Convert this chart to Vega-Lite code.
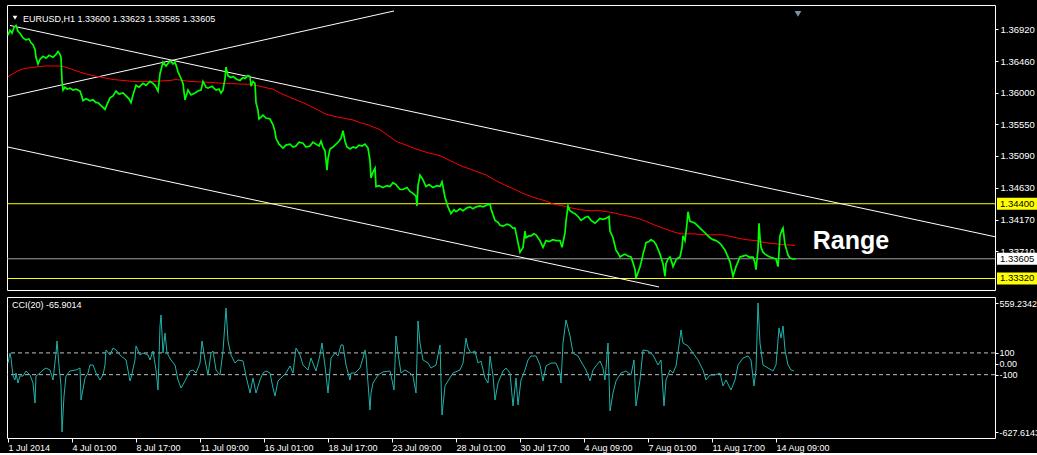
{
"$schema": "https://vega.github.io/schema/vega-lite/v6.json",
"background": "#000000",
"padding": {"left": 4, "top": 4, "right": 0, "bottom": 0},
"spacing": 5,
"config": {
  "view": {"stroke": "#ffffff", "strokeWidth": 1},
  "font": "Liberation Sans",
  "axis": {"labelColor": "#ffffff", "tickColor": "#ffffff", "domain": false, "grid": false, "labelFont": "Liberation Sans", "labelFontSize": 9.5}
},
"datasets": {
  "price": [
    {"b":0,"p":1.36836},{"b":2,"p":1.36906},{"b":4,"p":1.36864},{"b":6,"p":1.36948},{"b":8,"p":1.36976},{"b":10,"p":1.36892},{"b":12,"p":1.36864},{"b":15,"p":1.36795},{"b":18,"p":1.36767},{"b":21,"p":1.36781},{"b":23,"p":1.36725},{"b":25,"p":1.36697},{"b":27,"p":1.36627},{"b":28,"p":1.36516},{"b":30,"p":1.36418},{"b":32,"p":1.36488},{"b":35,"p":1.3653},{"b":38,"p":1.36502},{"b":41,"p":1.36544},{"b":45,"p":1.36516},{"b":48,"p":1.36558},{"b":50,"p":1.36599},{"b":52,"p":1.36558},{"b":53,"p":1.36516},{"b":54,"p":1.36181},{"b":55,"p":1.36042},{"b":57,"p":1.36084},{"b":59,"p":1.36056},{"b":62,"p":1.3607},{"b":65,"p":1.36042},{"b":68,"p":1.36056},{"b":72,"p":1.36028},{"b":74,"p":1.35944},{"b":75,"p":1.35888},{"b":78,"p":1.35916},{"b":82,"p":1.35888},{"b":85,"p":1.35902},{"b":88,"p":1.35861},{"b":90,"p":1.35861},{"b":93,"p":1.35819},{"b":95,"p":1.35791},{"b":97,"p":1.35763},{"b":99,"p":1.35833},{"b":102,"p":1.3593},{"b":105,"p":1.35958},{"b":108,"p":1.36028},{"b":111,"p":1.35986},{"b":115,"p":1.36},{"b":118,"p":1.35958},{"b":121,"p":1.35916},{"b":123,"p":1.35861},{"b":125,"p":1.35972},{"b":128,"p":1.36111},{"b":131,"p":1.36084},{"b":135,"p":1.36139},{"b":138,"p":1.36111},{"b":142,"p":1.36167},{"b":145,"p":1.36139},{"b":147,"p":1.36111},{"b":150,"p":1.36028},{"b":152,"p":1.36279},{"b":154,"p":1.3639},{"b":155,"p":1.36446},{"b":158,"p":1.3639},{"b":161,"p":1.36446},{"b":163,"p":1.3646},{"b":165,"p":1.36418},{"b":167,"p":1.36446},{"b":169,"p":1.36362},{"b":170,"p":1.36307},{"b":173,"p":1.36209},{"b":175,"p":1.36139},{"b":177,"p":1.35902},{"b":180,"p":1.36042},{"b":183,"p":1.35972},{"b":187,"p":1.36},{"b":190,"p":1.36028},{"b":193,"p":1.36042},{"b":195,"p":1.36167},{"b":198,"p":1.36084},{"b":200,"p":1.3607},{"b":204,"p":1.36097},{"b":208,"p":1.36042},{"b":211,"p":1.36056},{"b":213,"p":1.36},{"b":215,"p":1.36042},{"b":217,"p":1.36209},{"b":218,"p":1.36376},{"b":220,"p":1.36251},{"b":223,"p":1.36223},{"b":225,"p":1.36237},{"b":229,"p":1.36195},{"b":232,"p":1.36181},{"b":235,"p":1.36223},{"b":237,"p":1.36209},{"b":240,"p":1.36251},{"b":242,"p":1.36237},{"b":243,"p":1.36097},{"b":245,"p":1.36167},{"b":247,"p":1.36139},{"b":248,"p":1.35861},{"b":250,"p":1.35749},{"b":251,"p":1.35624},{"b":253,"p":1.35651},{"b":255,"p":1.35679},{"b":258,"p":1.35638},{"b":262,"p":1.35624},{"b":265,"p":1.3554},{"b":267,"p":1.35442},{"b":268,"p":1.35345},{"b":271,"p":1.35261},{"b":275,"p":1.35205},{"b":278,"p":1.35247},{"b":282,"p":1.35261},{"b":285,"p":1.35219},{"b":288,"p":1.35233},{"b":291,"p":1.35289},{"b":295,"p":1.35275},{"b":298,"p":1.35219},{"b":302,"p":1.35233},{"b":305,"p":1.35289},{"b":308,"p":1.35261},{"b":311,"p":1.35233},{"b":313,"p":1.35303},{"b":315,"p":1.35219},{"b":317,"p":1.35164},{"b":319,"p":1.34885},{"b":320,"p":1.35052},{"b":322,"p":1.35191},{"b":325,"p":1.35219},{"b":328,"p":1.35261},{"b":331,"p":1.35303},{"b":333,"p":1.35345},{"b":335,"p":1.35456},{"b":337,"p":1.35303},{"b":339,"p":1.35219},{"b":342,"p":1.35191},{"b":345,"p":1.35219},{"b":348,"p":1.35205},{"b":351,"p":1.35247},{"b":354,"p":1.35233},{"b":357,"p":1.35261},{"b":360,"p":1.35205},{"b":362,"p":1.35024},{"b":363,"p":1.34773},{"b":365,"p":1.34857},{"b":367,"p":1.34913},{"b":368,"p":1.34648},{"b":371,"p":1.34662},{"b":375,"p":1.34634},{"b":379,"p":1.34662},{"b":382,"p":1.34648},{"b":385,"p":1.34704},{"b":388,"p":1.34676},{"b":392,"p":1.34606},{"b":395,"p":1.34606},{"b":399,"p":1.34634},{"b":402,"p":1.34578},{"b":405,"p":1.3455},{"b":408,"p":1.34508},{"b":409,"p":1.34369},{"b":410,"p":1.34662},{"b":412,"p":1.34815},{"b":415,"p":1.34745},{"b":418,"p":1.34648},{"b":421,"p":1.34676},{"b":425,"p":1.34634},{"b":429,"p":1.34662},{"b":432,"p":1.34648},{"b":434,"p":1.34717},{"b":437,"p":1.34494},{"b":440,"p":1.34355},{"b":443,"p":1.34257},{"b":446,"p":1.34313},{"b":448,"p":1.34285},{"b":452,"p":1.34327},{"b":455,"p":1.34299},{"b":459,"p":1.34341},{"b":462,"p":1.34355},{"b":465,"p":1.34327},{"b":468,"p":1.34355},{"b":472,"p":1.34369},{"b":475,"p":1.34355},{"b":479,"p":1.34383},{"b":482,"p":1.34397},{"b":483,"p":1.34327},{"b":485,"p":1.34243},{"b":487,"p":1.3416},{"b":490,"p":1.34132},{"b":492,"p":1.3409},{"b":495,"p":1.34076},{"b":499,"p":1.34104},{"b":502,"p":1.3409},{"b":505,"p":1.34048},{"b":507,"p":1.34048},{"b":510,"p":1.33839},{"b":512,"p":1.337},{"b":515,"p":1.3377},{"b":517,"p":1.34006},{"b":518,"p":1.33909},{"b":521,"p":1.33937},{"b":523,"p":1.33937},{"b":526,"p":1.33965},{"b":528,"p":1.33951},{"b":530,"p":1.33909},{"b":532,"p":1.33867},{"b":535,"p":1.3377},{"b":538,"p":1.33867},{"b":541,"p":1.33853},{"b":545,"p":1.33881},{"b":548,"p":1.33867},{"b":552,"p":1.33867},{"b":554,"p":1.3377},{"b":557,"p":1.33979},{"b":558,"p":1.34146},{"b":560,"p":1.34369},{"b":562,"p":1.34299},{"b":565,"p":1.34271},{"b":567,"p":1.34257},{"b":570,"p":1.34216},{"b":573,"p":1.3416},{"b":577,"p":1.34202},{"b":580,"p":1.34216},{"b":583,"p":1.3416},{"b":587,"p":1.34118},{"b":590,"p":1.3416},{"b":592,"p":1.34188},{"b":595,"p":1.34174},{"b":598,"p":1.34188},{"b":601,"p":1.34216},{"b":602,"p":1.34006},{"b":605,"p":1.33909},{"b":608,"p":1.33728},{"b":610,"p":1.33686},{"b":612,"p":1.3363},{"b":615,"p":1.33658},{"b":617,"p":1.33672},{"b":620,"p":1.33644},{"b":623,"p":1.3363},{"b":625,"p":1.33546},{"b":627,"p":1.33449},{"b":628,"p":1.33324},{"b":630,"p":1.33407},{"b":632,"p":1.33491},{"b":634,"p":1.33602},{"b":635,"p":1.33672},{"b":637,"p":1.3377},{"b":638,"p":1.33839},{"b":641,"p":1.33853},{"b":643,"p":1.33881},{"b":646,"p":1.33853},{"b":648,"p":1.33811},{"b":650,"p":1.33742},{"b":652,"p":1.33672},{"b":655,"p":1.33533},{"b":657,"p":1.33352},{"b":658,"p":1.33533},{"b":660,"p":1.33602},{"b":662,"p":1.3363},{"b":664,"p":1.33546},{"b":665,"p":1.33491},{"b":668,"p":1.33588},{"b":670,"p":1.33616},{"b":672,"p":1.3363},{"b":674,"p":1.3377},{"b":675,"p":1.33937},{"b":677,"p":1.33867},{"b":679,"p":1.34118},{"b":680,"p":1.34285},{"b":682,"p":1.34146},{"b":685,"p":1.34132},{"b":687,"p":1.34118},{"b":690,"p":1.34076},{"b":692,"p":1.34048},{"b":695,"p":1.34006},{"b":697,"p":1.33979},{"b":700,"p":1.33937},{"b":702,"p":1.33909},{"b":705,"p":1.33881},{"b":708,"p":1.33867},{"b":711,"p":1.33839},{"b":713,"p":1.33811},{"b":715,"p":1.3377},{"b":717,"p":1.33728},{"b":720,"p":1.3363},{"b":722,"p":1.3356},{"b":723,"p":1.33491},{"b":725,"p":1.33352},{"b":728,"p":1.33491},{"b":730,"p":1.3356},{"b":732,"p":1.3363},{"b":735,"p":1.33644},{"b":738,"p":1.33658},{"b":741,"p":1.3363},{"b":745,"p":1.3363},{"b":747,"p":1.33546},{"b":748,"p":1.33449},{"b":750,"p":1.33742},{"b":751,"p":1.34118},{"b":752,"p":1.33909},{"b":753,"p":1.3377},{"b":755,"p":1.337},{"b":757,"p":1.33672},{"b":760,"p":1.33644},{"b":762,"p":1.3363},{"b":765,"p":1.33616},{"b":768,"p":1.33602},{"b":770,"p":1.33491},{"b":771,"p":1.337},{"b":772,"p":1.33937},{"b":774,"p":1.34021},{"b":775,"p":1.34048},{"b":777,"p":1.33811},{"b":779,"p":1.33714},{"b":780,"p":1.33658},{"b":782,"p":1.33616},{"b":785,"p":1.33602},{"b":788,"p":1.33605}
  ],
  "ma": [
    {"b":0,"p":1.36237},{"b":5,"p":1.36279},{"b":10,"p":1.36321},{"b":15,"p":1.36348},{"b":21,"p":1.36362},{"b":28,"p":1.36376},{"b":37,"p":1.3639},{"b":45,"p":1.3639},{"b":53,"p":1.3639},{"b":60,"p":1.36362},{"b":68,"p":1.36321},{"b":77,"p":1.36279},{"b":85,"p":1.36251},{"b":95,"p":1.36223},{"b":105,"p":1.36195},{"b":115,"p":1.36181},{"b":125,"p":1.36167},{"b":145,"p":1.36167},{"b":162,"p":1.36181},{"b":168,"p":1.36195},{"b":182,"p":1.36167},{"b":202,"p":1.36153},{"b":215,"p":1.36139},{"b":242,"p":1.36125},{"b":252,"p":1.36097},{"b":260,"p":1.3607},{"b":265,"p":1.36056},{"b":272,"p":1.36},{"b":283,"p":1.3593},{"b":295,"p":1.35861},{"b":307,"p":1.35777},{"b":318,"p":1.35693},{"b":330,"p":1.35651},{"b":345,"p":1.3561},{"b":353,"p":1.35568},{"b":360,"p":1.3554},{"b":372,"p":1.3547},{"b":380,"p":1.35387},{"b":388,"p":1.35303},{"b":398,"p":1.35247},{"b":408,"p":1.35191},{"b":420,"p":1.35136},{"b":432,"p":1.35094},{"b":442,"p":1.35024},{"b":452,"p":1.34954},{"b":465,"p":1.34885},{"b":478,"p":1.34815},{"b":488,"p":1.34731},{"b":498,"p":1.34662},{"b":507,"p":1.34606},{"b":515,"p":1.3455},{"b":525,"p":1.34494},{"b":538,"p":1.34439},{"b":545,"p":1.34397},{"b":555,"p":1.34369},{"b":563,"p":1.34341},{"b":572,"p":1.34313},{"b":582,"p":1.34299},{"b":592,"p":1.34299},{"b":605,"p":1.34271},{"b":613,"p":1.34243},{"b":622,"p":1.34216},{"b":630,"p":1.34188},{"b":638,"p":1.34146},{"b":647,"p":1.3409},{"b":655,"p":1.34048},{"b":663,"p":1.34006},{"b":672,"p":1.33965},{"b":685,"p":1.33965},{"b":698,"p":1.33951},{"b":715,"p":1.33951},{"b":728,"p":1.33909},{"b":738,"p":1.33881},{"b":748,"p":1.33867},{"b":757,"p":1.33839},{"b":765,"p":1.33825},{"b":775,"p":1.33811},{"b":787,"p":1.33797}
  ],
  "trend": [
    {"id":"upper","b":2,"p":1.36976},{"id":"upper","b":987,"p":1.33923},
    {"id":"rising","b":0,"p":1.35944},{"id":"rising","b":386,"p":1.37185},
    {"id":"lower","b":0,"p":1.35219},{"id":"lower","b":651,"p":1.33198}
  ],
  "cci": [
    {"b":0,"v":7},{"b":2,"v":99},{"b":3,"v":53},{"b":5,"v":-112},{"b":7,"v":-149},{"b":8,"v":-85},{"b":10,"v":-177},{"b":12,"v":-112},{"b":15,"v":-112},{"b":18,"v":-66},{"b":22,"v":-103},{"b":25,"v":-177},{"b":27,"v":-361},{"b":28,"v":-112},{"b":32,"v":-85},{"b":35,"v":-57},{"b":38,"v":-39},{"b":42,"v":-57},{"b":45,"v":-149},{"b":48,"v":99},{"b":49,"v":210},{"b":51,"v":-20},{"b":53,"v":-204},{"b":54,"v":-627.6143},{"b":56,"v":-296},{"b":58,"v":-112},{"b":62,"v":-66},{"b":68,"v":-57},{"b":72,"v":-39},{"b":73,"v":-333},{"b":77,"v":-131},{"b":80,"v":-85},{"b":82,"v":-11},{"b":85,"v":-11},{"b":88,"v":-85},{"b":92,"v":-149},{"b":95,"v":-103},{"b":97,"v":-11},{"b":98,"v":127},{"b":102,"v":81},{"b":105,"v":145},{"b":108,"v":127},{"b":112,"v":81},{"b":118,"v":35},{"b":122,"v":-158},{"b":123,"v":-131},{"b":127,"v":35},{"b":128,"v":164},{"b":132,"v":81},{"b":135,"v":99},{"b":140,"v":81},{"b":142,"v":35},{"b":145,"v":118},{"b":148,"v":-57},{"b":150,"v":-241},{"b":152,"v":348},{"b":153,"v":449},{"b":155,"v":99},{"b":157,"v":283},{"b":159,"v":99},{"b":163,"v":35},{"b":167,"v":-11},{"b":170,"v":-149},{"b":173,"v":-223},{"b":177,"v":-158},{"b":182,"v":-66},{"b":185,"v":-57},{"b":188,"v":-85},{"b":192,"v":7},{"b":194,"v":210},{"b":197,"v":35},{"b":200,"v":-103},{"b":203,"v":99},{"b":205,"v":118},{"b":208,"v":-57},{"b":212,"v":-103},{"b":215,"v":118},{"b":218,"v":513},{"b":220,"v":210},{"b":223,"v":81},{"b":227,"v":7},{"b":230,"v":35},{"b":235,"v":26},{"b":238,"v":-112},{"b":242,"v":-269},{"b":245,"v":-131},{"b":248,"v":-269},{"b":252,"v":-149},{"b":255,"v":-85},{"b":258,"v":-66},{"b":262,"v":-85},{"b":265,"v":-223},{"b":267,"v":-296},{"b":270,"v":-158},{"b":273,"v":-131},{"b":278,"v":-85},{"b":282,"v":-20},{"b":285,"v":-85},{"b":288,"v":145},{"b":292,"v":81},{"b":295,"v":-11},{"b":300,"v":-57},{"b":303,"v":53},{"b":308,"v":-66},{"b":312,"v":81},{"b":314,"v":191},{"b":317,"v":-20},{"b":320,"v":-269},{"b":323,"v":53},{"b":327,"v":99},{"b":330,"v":72},{"b":333,"v":173},{"b":335,"v":173},{"b":338,"v":-11},{"b":342,"v":-149},{"b":343,"v":-85},{"b":347,"v":-85},{"b":352,"v":-39},{"b":355,"v":53},{"b":357,"v":127},{"b":358,"v":72},{"b":362,"v":-425},{"b":363,"v":-269},{"b":365,"v":-177},{"b":370,"v":-103},{"b":375,"v":-75},{"b":382,"v":-66},{"b":384,"v":-149},{"b":386,"v":-241},{"b":388,"v":256},{"b":390,"v":99},{"b":393,"v":-85},{"b":397,"v":-57},{"b":402,"v":-85},{"b":405,"v":-112},{"b":408,"v":-269},{"b":410,"v":394},{"b":412,"v":191},{"b":415,"v":35},{"b":420,"v":7},{"b":423,"v":-39},{"b":428,"v":-11},{"b":432,"v":173},{"b":434,"v":-471},{"b":437,"v":-204},{"b":440,"v":-158},{"b":445,"v":-85},{"b":452,"v":-57},{"b":455,"v":7},{"b":458,"v":237},{"b":460,"v":145},{"b":463,"v":99},{"b":467,"v":118},{"b":470,"v":7},{"b":473,"v":26},{"b":477,"v":-131},{"b":480,"v":-177},{"b":482,"v":72},{"b":485,"v":-112},{"b":487,"v":-333},{"b":490,"v":-177},{"b":495,"v":-66},{"b":498,"v":-39},{"b":502,"v":-85},{"b":505,"v":-388},{"b":508,"v":-131},{"b":510,"v":-379},{"b":513,"v":-149},{"b":517,"v":-57},{"b":520,"v":35},{"b":523,"v":72},{"b":528,"v":72},{"b":532,"v":-11},{"b":535,"v":-158},{"b":538,"v":-20},{"b":543,"v":7},{"b":548,"v":7},{"b":552,"v":-85},{"b":553,"v":-177},{"b":555,"v":191},{"b":558,"v":403},{"b":562,"v":256},{"b":565,"v":99},{"b":570,"v":72},{"b":575,"v":-11},{"b":578,"v":-57},{"b":582,"v":-158},{"b":585,"v":-57},{"b":588,"v":-20},{"b":592,"v":26},{"b":595,"v":-39},{"b":597,"v":-149},{"b":600,"v":191},{"b":602,"v":-434},{"b":605,"v":-269},{"b":608,"v":-158},{"b":613,"v":-85},{"b":618,"v":-66},{"b":623,"v":-103},{"b":626,"v":35},{"b":628,"v":-388},{"b":632,"v":-149},{"b":635,"v":127},{"b":640,"v":118},{"b":645,"v":81},{"b":650,"v":-11},{"b":653,"v":35},{"b":656,"v":-388},{"b":658,"v":-149},{"b":662,"v":-57},{"b":665,"v":-85},{"b":668,"v":-20},{"b":672,"v":237},{"b":673,"v":311},{"b":675,"v":191},{"b":680,"v":164},{"b":685,"v":99},{"b":690,"v":35},{"b":695,"v":-57},{"b":698,"v":-149},{"b":702,"v":-103},{"b":707,"v":-103},{"b":712,"v":-85},{"b":715,"v":-204},{"b":718,"v":-149},{"b":723,"v":-241},{"b":727,"v":-149},{"b":730,"v":-11},{"b":735,"v":53},{"b":740,"v":72},{"b":743,"v":35},{"b":746,"v":-204},{"b":748,"v":-57},{"b":750,"v":559.2342},{"b":752,"v":191},{"b":755,"v":-11},{"b":760,"v":-39},{"b":765,"v":-66},{"b":768,"v":-11},{"b":771,"v":329},{"b":773,"v":237},{"b":775,"v":348},{"b":777,"v":127},{"b":780,"v":-11},{"b":783,"v":-57},{"b":786,"v":-65.9014}
  ]
},
"vconcat": [
  {
    "width": 988,
    "height": 285,
    "encoding": {
      "y": {"field": "p", "type": "quantitative", "scale": {"domain": [1.33226, 1.37199], "nice": false, "zero": false},
            "axis": {"orient": "right", "title": null, "values": [1.3692, 1.3646, 1.36, 1.3555, 1.3509, 1.3463, 1.3417, 1.3371], "format": ".5f", "tickSize": 3, "labelPadding": 2, "labelFontSize": 9.5}}
    },
    "layer": [
      {
        "data": {"values": [{"p": 1.344}, {"p": 1.3332}]},
        "mark": {"type": "rule", "color": "#ffff00", "strokeWidth": 1}
      },
      {
        "data": {"values": [{"p": 1.33605}]},
        "mark": {"type": "rule", "color": "#a0a0a0", "strokeWidth": 1}
      },
      {
        "data": {"name": "trend"},
        "mark": {"type": "line", "color": "#ffffff", "strokeWidth": 1, "clip": true},
        "encoding": {
          "x": {"field": "b", "type": "quantitative", "scale": {"domain": [-1, 987], "nice": false, "zero": false}, "axis": null},
          "detail": {"field": "id"}
        }
      },
      {
        "data": {"name": "ma"},
        "mark": {"type": "line", "color": "#ff0000", "strokeWidth": 1},
        "encoding": {"x": {"field": "b", "type": "quantitative", "axis": null}}
      },
      {
        "data": {"name": "price"},
        "mark": {"type": "line", "color": "#00ff00", "strokeWidth": 1.7},
        "encoding": {"x": {"field": "b", "type": "quantitative", "axis": null}}
      },
      {
        "data": {"values": [{"b": 15, "p": 1.37073, "t": "EURUSD,H1  1.33600 1.33623 1.33585 1.33605"}]},
        "mark": {"type": "text", "align": "left", "baseline": "middle", "color": "#ffffff", "font": "Liberation Sans", "fontSize": 9},
        "encoding": {"x": {"field": "b", "type": "quantitative", "axis": null}, "text": {"field": "t"}}
      },
      {
        "data": {"values": [{"b": 7, "p": 1.37087}]},
        "mark": {"type": "point", "shape": "triangle-down", "filled": true, "color": "#ffffff", "size": 22, "opacity": 1},
        "encoding": {"x": {"field": "b", "type": "quantitative", "axis": null}}
      },
      {
        "data": {"values": [{"b": 790, "p": 1.37143}]},
        "mark": {"type": "point", "shape": "triangle-down", "filled": true, "color": "#7f8fa0", "size": 45, "opacity": 1},
        "encoding": {"x": {"field": "b", "type": "quantitative", "axis": null}}
      },
      {
        "data": {"values": [{"b": 843, "p": 1.33742, "t": "Range"}]},
        "mark": {"type": "text", "align": "center", "baseline": "alphabetic", "color": "#ffffff", "font": "Liberation Sans", "fontWeight": "bold", "fontSize": 25},
        "encoding": {"x": {"field": "b", "type": "quantitative", "axis": null}, "text": {"field": "t"}}
      },
      {
        "data": {"values": [{"p": 1.344, "kind": "level"}, {"p": 1.3332, "kind": "level"}, {"p": 1.33605, "kind": "price"}]},
        "mark": {"type": "bar", "orient": "horizontal", "size": 12, "clip": false},
        "encoding": {
          "x": {"datum": 989},
          "x2": {"datum": 1033},
          "color": {"field": "kind", "type": "nominal", "scale": {"domain": ["level", "price"], "range": ["#ffff00", "#ffffff"]}, "legend": null}
        }
      },
      {
        "data": {"values": [{"p": 1.344, "t": "1.34400"}, {"p": 1.3332, "t": "1.33320"}, {"p": 1.33605, "t": "1.33605"}]},
        "mark": {"type": "text", "align": "left", "baseline": "middle", "color": "#000000", "font": "Liberation Sans", "fontSize": 9.5},
        "encoding": {"x": {"datum": 992}, "text": {"field": "t"}}
      }
    ]
  },
  {
    "width": 988,
    "height": 141,
    "encoding": {
      "y": {"field": "v", "type": "quantitative", "scale": {"domain": [-682.6, 614.5], "nice": false, "zero": false},
            "axis": {"orient": "right", "title": null, "values": [559.2342, 100, 0, -100, -627.6143], "tickSize": 3, "labelPadding": 1, "labelFontSize": 9,
                     "labelExpr": "datum.value > 500 ? '559.2342' : datum.value < -500 ? '-627.6143' : datum.value == 0 ? '0.00' : datum.value > 0 ? '100' : '-100'"}}
    },
    "layer": [
      {
        "data": {"values": [{"v": 100}, {"v": -100}]},
        "mark": {"type": "rule", "color": "#c0c0c0", "strokeWidth": 1, "strokeDash": [4, 3]}
      },
      {
        "data": {"name": "cci"},
        "mark": {"type": "line", "color": "#20b2aa", "strokeWidth": 1},
        "encoding": {
          "x": {"field": "b", "type": "quantitative", "scale": {"domain": [-1, 987], "nice": false, "zero": false},
                "axis": {"orient": "bottom", "title": null, "values": [0, 64, 128, 192, 256, 320, 384, 448, 512, 576, 640, 704, 768], "tickSize": 4, "labelPadding": 1, "labelAlign": "left", "labelBaseline": "top", "labelFontSize": 9,
                         "labelExpr": "['1 Jul 2014','4 Jul 01:00','8 Jul 17:00','11 Jul 09:00','16 Jul 01:00','18 Jul 17:00','23 Jul 09:00','28 Jul 01:00','30 Jul 17:00','4 Aug 09:00','7 Aug 01:00','11 Aug 17:00','14 Aug 09:00'][round(datum.value / 64)]"}}
        }
      },
      {
        "data": {"values": [{"b": 4, "v": 541, "t": "CCI(20) -65.9014"}]},
        "mark": {"type": "text", "align": "left", "baseline": "middle", "color": "#ffffff", "font": "Liberation Sans", "fontSize": 9},
        "encoding": {
          "x": {"field": "b", "type": "quantitative",
                "axis": {"orient": "bottom", "title": null, "values": [0, 64, 128, 192, 256, 320, 384, 448, 512, 576, 640, 704, 768], "tickSize": 4, "labelPadding": 1, "labelAlign": "left", "labelBaseline": "top", "labelFontSize": 9,
                         "labelExpr": "['1 Jul 2014','4 Jul 01:00','8 Jul 17:00','11 Jul 09:00','16 Jul 01:00','18 Jul 17:00','23 Jul 09:00','28 Jul 01:00','30 Jul 17:00','4 Aug 09:00','7 Aug 01:00','11 Aug 17:00','14 Aug 09:00'][round(datum.value / 64)]"}},
          "text": {"field": "t"}
        }
      }
    ]
  }
]
}
